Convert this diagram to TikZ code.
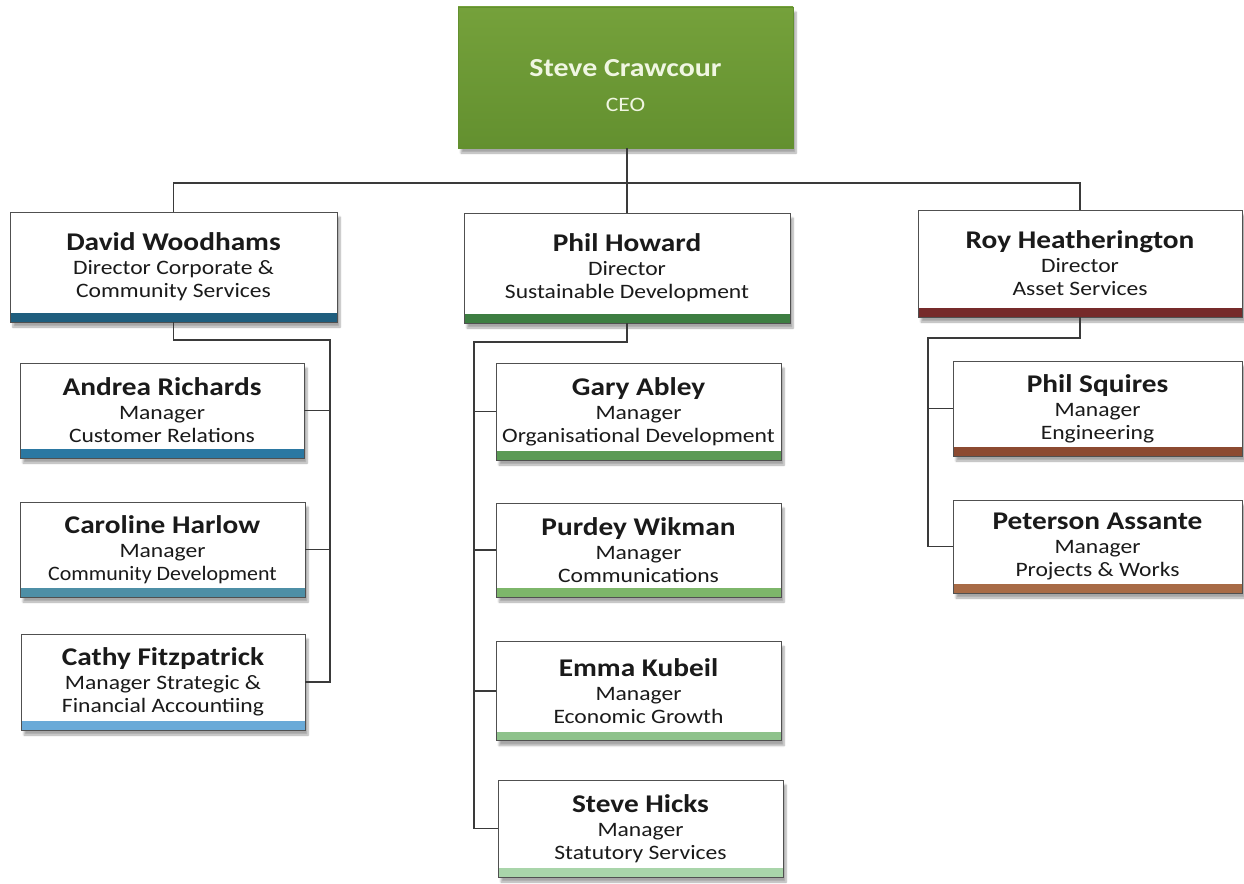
\documentclass[tikz,border=0pt]{standalone}
\usepackage{fontspec}
\setmainfont{Carlito}[FakeStretch=1.15]
\usetikzlibrary{shadows.blur}
\definecolor{lineC}{HTML}{3A3A3A}
\definecolor{boxline}{HTML}{505050}
\definecolor{txt}{HTML}{1A1A1A}
\definecolor{ceoTop}{HTML}{75A13B}
\definecolor{ceoBot}{HTML}{63902F}
\definecolor{ceoTxt}{HTML}{F0F6E2}
\definecolor{bDW}{HTML}{1F5E7E}
\definecolor{bAR}{HTML}{2B78A2}
\definecolor{bCH}{HTML}{4E8FA6}
\definecolor{bCF}{HTML}{6AAAD8}
\definecolor{bPH}{HTML}{3D7E42}
\definecolor{bGA}{HTML}{5B9A55}
\definecolor{bPW}{HTML}{7DB66A}
\definecolor{bEK}{HTML}{8EC28B}
\definecolor{bSH}{HTML}{A9D5AA}
\definecolor{bRH}{HTML}{762A2A}
\definecolor{bPS}{HTML}{8C4A31}
\definecolor{bPA}{HTML}{A86B46}
\newcommand\nm[1]{{\fontsize{25.5}{26}\selectfont\bfseries #1}}
\begin{document}
\begin{tikzpicture}[x=1pt,y=-1pt,
  conn/.style={draw=lineC,line width=1.1pt},
  orgbox/.style={rectangle,draw=boxline,line width=0.7pt,fill=white,inner sep=0pt,
    align=center,text=txt,font=\fontsize{20.5}{23}\selectfont,
    blur shadow={shadow xshift=3pt,shadow yshift=-5pt,shadow opacity=35,shadow blur steps=6}},
  bar/.style={path picture={\fill[#1] ([yshift=9pt]path picture bounding box.south west) rectangle (path picture bounding box.south east);}},
  dims/.style 2 args={minimum width=#1pt,minimum height=#2pt}
]
\useasboundingbox (0,0) rectangle (1244,883);
% CEO
\node[rectangle,inner sep=0pt,top color=ceoTop,bottom color=ceoBot,draw=ceoBot,
  dims={335}{141},align=center,text=ceoTxt,font=\fontsize{20.5}{23}\selectfont,
  blur shadow={shadow xshift=3pt,shadow yshift=-5pt,shadow opacity=35,shadow blur steps=6}]
  (ceo) at (625.5,77.5) {\rule{0pt}{33pt}{\fontsize{26}{26}\selectfont\bfseries Steve Crawcour}\\[12pt]CEO};
% Directors
\node[orgbox,bar=bDW,dims={327}{110}] (dw) at (173.5,267) {\nm{David Woodhams}\\[1pt]Director Corporate \&\\Community Services};
\node[orgbox,bar=bPH,dims={326}{110}] (ph) at (627,268) {\nm{Phil Howard}\\[1pt]Director\\Sustainable Development};
\node[orgbox,bar=bRH,dims={324}{107}] (rh) at (1080,263.5) {\nm{Roy Heatherington}\\[1pt]Director\\Asset Services};
% Managers left
\node[orgbox,bar=bAR,dims={284}{95}] (ar) at (162,410.5) {\nm{Andrea Richards}\\[1pt]Manager\\Customer Relations};
\node[orgbox,bar=bCH,dims={285}{95}] (ch) at (162.5,549.5) {\nm{Caroline Harlow}\\[1pt]Manager\\\scalebox{0.93}[1]{Community Development}};
\node[orgbox,bar=bCF,dims={284}{96}] (cf) at (163,682) {\nm{Cathy Fitzpatrick}\\[1pt]Manager Strategic \&\\Financial Accountiing};
% Managers middle
\node[orgbox,bar=bGA,dims={285}{97}] (ga) at (638.5,411.5) {\nm{Gary Abley}\\[1pt]Manager\\Organisational Development};
\node[orgbox,bar=bPW,dims={285}{94}] (pw) at (638.5,550) {\nm{Purdey Wikman}\\[1pt]Manager\\Communications};
\node[orgbox,bar=bEK,dims={285}{99}] (ek) at (638.5,691) {\nm{Emma Kubeil}\\[1pt]Manager\\Economic Growth};
\node[orgbox,bar=bSH,dims={285}{97}] (sh) at (640.5,828.5) {\nm{Steve Hicks}\\[1pt]Manager\\Statutory Services};
% Managers right
\node[orgbox,bar=bPS,dims={289}{95}] (ps) at (1097.5,408.5) {\nm{Phil Squires}\\[1pt]Manager\\Engineering};
\node[orgbox,bar=bPA,dims={289}{93}] (pa) at (1097.5,546.5) {\nm{Peterson Assante}\\[1pt]Manager\\Projects \& Works};
% branch points
\coordinate (bus) at (627,183);
\coordinate (dwx) at (330,340);
\coordinate (phx) at (474,342);
\coordinate (rhx) at (928,338);
% top connectors
\draw[conn] (bus |- ceo.south) -- (bus);
\draw[conn] (dw.north) |- (bus) -| (rh.north);
\draw[conn] (bus) -- (ph.north);
% left subtree
\draw[conn] (dw.south) |- (dwx) |- (cf.east);
\draw[conn] (ar.east) -- (ar.east -| dwx);
\draw[conn] (ch.east) -- (ch.east -| dwx);
% middle subtree
\draw[conn] (ph.south) |- (phx) |- (sh.west);
\draw[conn] (ga.west) -- (ga.west -| phx);
\draw[conn] (pw.west) -- (pw.west -| phx);
\draw[conn] (ek.west) -- (ek.west -| phx);
% right subtree
\draw[conn] (rh.south) |- (rhx) |- (pa.west);
\draw[conn] (ps.west) -- (ps.west -| rhx);
\end{tikzpicture}
\end{document}
